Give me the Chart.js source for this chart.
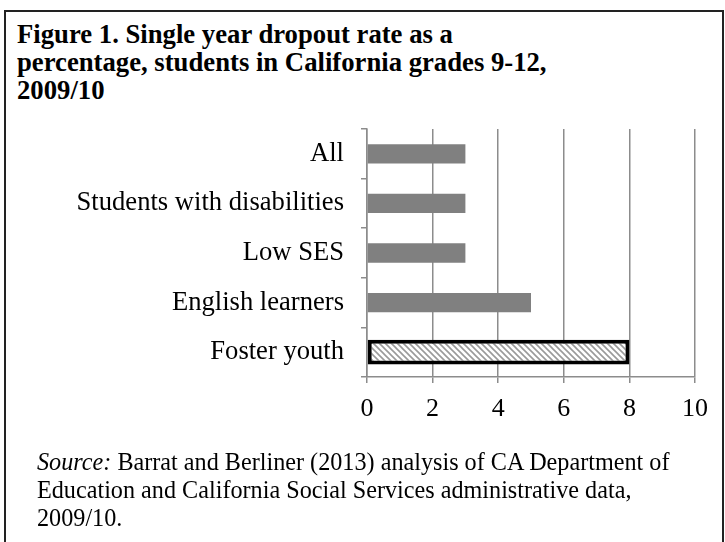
<!DOCTYPE html>
<html>
<head>
<meta charset="utf-8">
<script src="https://cdn.jsdelivr.net/npm/chart.js@4/dist/chart.umd.min.js"></script>
<style>
    body { margin: 0; background: #fff; }
    #wrap { position: relative; width: 725px; height: 542px; overflow: hidden; font-family: "Liberation Serif", "Times New Roman", serif; }
    #frame { position: absolute; left: 4px; top: 10px; width: 716px; height: 560px; border: 2px solid #222; }
    #title { position: absolute; left: 17px; top: 20px; font-size: 26.7px; font-weight: bold; line-height: 28px; color: #000; }
    #source { position: absolute; left: 37px; top: 448px; font-size: 24.2px; line-height: 28px; color: #000; }
    #chart { position: absolute; left: 0; top: 0; }
</style>
</head>
<body>
<div id="wrap">
    <div id="frame"></div>
    <div id="title">Figure 1. Single year dropout rate as a<br>percentage, students in California grades 9-12,<br>2009/10</div>
    <canvas id="chart" width="725" height="542"></canvas>
    <div id="source"><i>Source:</i> Barrat and Berliner (2013) analysis of CA Department of<br>Education and California Social Services administrative data,<br>2009/10.</div>
</div>
<script>
const categories = ["All", "Students with disabilities", "Low SES", "English learners", "Foster youth"];
const dropoutRates = [3, 3, 3, 5, 8];
const highlighted = "Foster youth";
const xTicks = [0, 2, 4, 6, 8, 10];

document.addEventListener('DOMContentLoaded', function () {
    main()
});

function hatchPattern(){
    let c = document.createElement('canvas');
    c.width = 6;
    c.height = 6;
    let g = c.getContext('2d');
    g.fillStyle = "#fff";
    g.fillRect(0, 0, 6, 6);
    g.strokeStyle = "#9a9a9a";
    g.lineWidth = 1.6;
    g.beginPath();
    // "\" diagonal stripes, tiled
    g.moveTo(-1, -1); g.lineTo(7, 7);
    g.moveTo(-4, 2); g.lineTo(4, 10);
    g.moveTo(2, -4); g.lineTo(10, 4);
    g.stroke();
    return g.createPattern(c, 'repeat');
}

function main(){
    Chart.defaults.font.family = "'Liberation Serif', 'Times New Roman', serif";
    Chart.defaults.color = "#000";

    let plain = dropoutRates.map((v, i) => categories[i] === highlighted ? null : v)
    let special = dropoutRates.map((v, i) => categories[i] === highlighted ? v : null)
    let ctx = document.getElementById('chart').getContext('2d');

    new Chart(ctx, {
        type: 'bar',
        data: {
            labels: categories,
            datasets: [
                {
                    data: plain,
                    backgroundColor: "#808080",
                    borderWidth: 0,
                    barPercentage: 0.39,
                    categoryPercentage: 1
                },
                {
                    data: special,
                    backgroundColor: hatchPattern(),
                    borderColor: "#000",
                    borderWidth: 4,
                    borderSkipped: false,
                    barPercentage: 0.5,
                    categoryPercentage: 1
                }
            ]
        },
        options: {
            indexAxis: 'y',
            responsive: false,
            animation: false,
            devicePixelRatio: 1,
            layout: {
                padding: { top: 129, right: 30, left: 0, bottom: 0 }
            },
            plugins: {
                legend: { display: false },
                tooltip: { enabled: false },
            },
            datasets: {
                bar: { grouped: false }
            },
            scales: {
                x: {
                    min: 0,
                    max: 10,
                    afterBuildTicks: (scale) => { scale.ticks = xTicks.map(v => ({ value: v })) },
                    afterFit: (scale) => { scale.height = 165 },
                    grid: {
                        color: "#8c8c8c",
                        lineWidth: 1.5,
                        tickLength: 6,
                        tickColor: "#8c8c8c"
                    },
                    border: { display: true, color: "#8c8c8c", width: 1.5 },
                    ticks: {
                        font: { size: 26 },
                        padding: 11,
                        maxRotation: 0
                    }
                },
                y: {
                    offset: true,
                    afterFit: (scale) => { scale.width = 367 },
                    grid: {
                        offset: true,
                        drawOnChartArea: false,
                        tickLength: 6,
                        tickColor: "#8c8c8c",
                        lineWidth: 1.5
                    },
                    border: { display: true, color: "#8c8c8c", width: 1.5 },
                    ticks: {
                        font: { size: 26.6 },
                        padding: 17
                    }
                }
            }
        }
    });
}
</script>
</body>
</html>
